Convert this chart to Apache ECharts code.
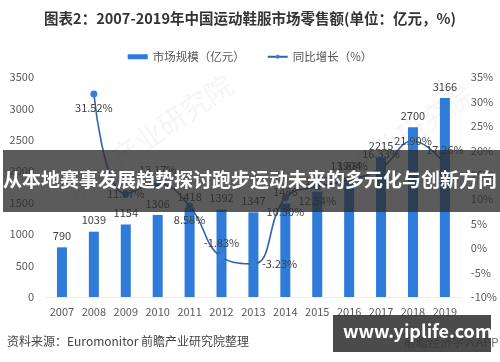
<!DOCTYPE html>
<html><head><meta charset="utf-8">
<script src="https://cdn.jsdelivr.net/npm/echarts@6/dist/echarts.min.js"></script>
<style>html,body{margin:0;padding:0;background:#fff}#c{width:500px;height:362px}</style>
</head><body><div id="c"></div>
<script>
const years = ['2007','2008','2009','2010','2011','2012','2013','2014','2015','2016','2017','2018','2019'];
const marketSize = [790, 1039, 1154, 1306, 1418, 1392, 1347, 1486, 1673, 1904, 2215, 2700, 3166];
const growth = [null, 31.52, 11.07, 13.17, 8.58, -1.83, -3.23, 10.30, 12.54, 13.88, 16.33, 21.90, 17.26];
const labelPos = ['top','bottom','inside','top','bottom','top','right','bottom','bottom','top','top','inside','top'];
const font = '"Noto Sans CJK SC","Noto Sans",sans-serif';

const chart = echarts.init(document.getElementById('c'));
chart.setOption({
  animation: false,
  textStyle: {fontFamily: font},
  title: {
    text: '图表2：2007-2019年中国运动鞋服市场零售额(单位：亿元，%)',
    left: 'center', top: 6,
    textStyle: {fontSize: 14.5, fontWeight: 'bold', color: '#333', fontFamily: font}
  },
  legend: {
    top: 46, left: 'center', itemGap: 22,
    textStyle: {fontSize: 11.5, color: '#555', fontFamily: font},
    data: [
      {name: '市场规模（亿元）', icon: 'rect', itemStyle: {color: '#2E7BD9'}},
      {name: '同比增长（%）'}
    ],
    itemWidth: 20, itemHeight: 5
  },
  grid: {left: 46, right: 39, top: 77, bottom: 65},
  xAxis: {
    type: 'category', data: years,
    axisLine: {show: true, lineStyle: {color: '#eeeeee'}},
    axisTick: {show: false},
    axisLabel: {fontSize: 11, color: '#595959', margin: 9}
  },
  yAxis: [
    {type: 'value', min: 0, max: 3500, interval: 500,
     splitLine: {show: false}, axisLine: {show: false}, axisTick: {show: false},
     axisLabel: {fontSize: 11, color: '#595959', margin: 12, formatter: v => String(v)}},
    {type: 'value', min: -10, max: 35, interval: 5,
     splitLine: {show: false}, axisLine: {show: false}, axisTick: {show: false},
     axisLabel: {fontSize: 11, color: '#595959', margin: 10, formatter: '{value}%'}}
  ],
  series: [
    {name: '市场规模（亿元）', type: 'bar', data: marketSize, barWidth: 10,
     itemStyle: {color: '#2E7BD9'},
     label: {show: true, position: 'top', fontSize: 11, color: '#404040', distance: 6}},
    {name: '同比增长（%）', type: 'line', yAxisIndex: 1, smooth: 0.45,
     data: growth.map((v, i) => ({value: v, label: {position: labelPos[i]}})),
     lineStyle: {color: '#2F65A8', width: 1.6},
     itemStyle: {color: '#3A7FD5'},
     symbol: 'circle', symbolSize: 7,
     label: {show: true, fontSize: 11, color: '#404040', formatter: p => p.value.toFixed(2) + '%'}}
  ],
  graphic: [
    {type: 'text', left: 60, top: 70, rotation: 0.6,
     style: {text: '前瞻产业研究院', fontSize: 28, fill: 'rgba(170,170,170,0.12)', fontFamily: font}},
    {type: 'text', left: 300, top: 80, rotation: 0.6,
     style: {text: '前瞻产业研究院', fontSize: 28, fill: 'rgba(170,170,170,0.12)', fontFamily: font}},
    {type: 'rect', shape: {x: 3, y: 150, width: 497, height: 62},
     style: {fill: 'rgba(45,45,45,0.78)'}, z: 100},
    {type: 'text', left: 'center', top: 170, z: 101,
     style: {text: '从本地赛事发展趋势探讨跑步运动未来的多元化与创新方向', fontSize: 19, fontWeight: 'bold', fill: '#fff', fontFamily: font}},
    {type: 'text', left: 7, top: 335, z: 101,
     style: {text: '资料来源：Euromonitor 前瞻产业研究院整理', fontSize: 12, fill: '#444', fontFamily: font}},
    {type: 'text', left: 404, top: 336, z: 100,
     style: {text: '前瞻经济学人APP', fontSize: 12, fill: '#777', fontFamily: font}},
    {type: 'rect', shape: {x: 333, y: 315, width: 158, height: 37},
     style: {fill: 'rgba(50,50,50,0.88)'}, z: 101},
    {type: 'text', left: 343, top: 322, z: 102,
     style: {text: 'www.yiplife.com', fontSize: 18, fontWeight: 'bold', fill: '#fff', fontFamily: font}}
  ]
});
</script></body></html>
